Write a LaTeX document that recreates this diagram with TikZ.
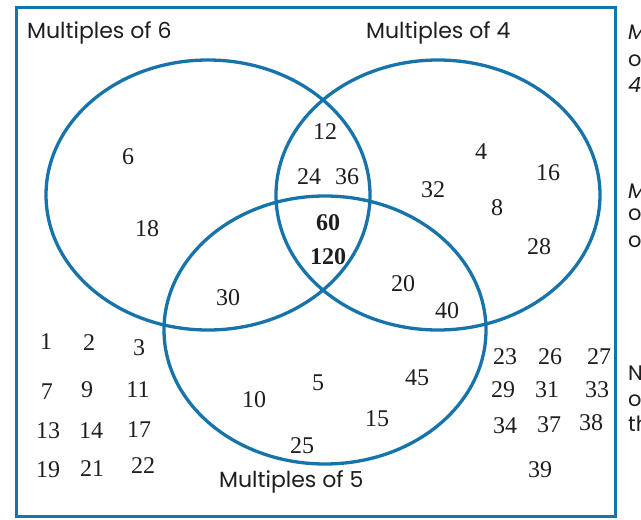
\documentclass[tikz,border=0pt]{standalone}
\usepackage{fontspec}
\setmainfont{Liberation Serif}
\newfontfamily\labelfont{Poppins}
\definecolor{vblue}{RGB}{22,116,170}
\definecolor{ink}{RGB}{30,30,30}
\begin{document}
\begin{tikzpicture}[x=1pt,y=-1pt,
  num/.style={font=\fontsize{24}{24}\selectfont, text=ink, inner sep=0pt},
  bnum/.style={num, font=\fontsize{24}{24}\selectfont\bfseries},
  lab/.style={font=\labelfont\fontsize{22}{22}\selectfont, text=ink, inner sep=0pt, anchor=base west},
  setline/.style={draw=vblue, line width=3.3pt},
  side/.style={font=\labelfont\fontsize{21}{21}\selectfont, text=ink, inner sep=0pt, anchor=base west}]
\useasboundingbox (0,0) rectangle (641,520);
\fill[white] (0,0) rectangle (641,520);
% frame
\draw[draw=vblue, line width=3pt] (16,7) rectangle (615,516);
% sets
\draw[setline] (208,195) ellipse [x radius=162pt, y radius=135pt];
\draw[setline] (438,195) ellipse [x radius=162pt, y radius=135pt];
\draw[setline] (325,330) ellipse [x radius=161pt, y radius=134pt];
% labels
\node[lab] (l6) at (27,38) {Multiples of 6};
\node[lab] (l4) at (366,38) {Multiples of 4};
\node[lab] (l5) at (219,487) {Multiples of 5};
% numbers in sets
\node[num] (n6) at (128,157) {6};
\node[num] (n18) at (147,229) {18};
\node[num] (n12) at (325,132) {12};
\node[num] (n24) at (309,177) {24};
\node[num] (n36) at (347,177) {36};
\node[bnum] (n60) at (328,223) {60};
\node[bnum] (n120) at (328,257) {120};
\node[num] (n32) at (433,190) {32};
\node[num] (n4) at (481,152) {4};
\node[num] (n16) at (548,173) {16};
\node[num] (n8) at (497,208) {8};
\node[num] (n28) at (539,247) {28};
\node[num] (n30) at (228,298) {30};
\node[num] (n20) at (403,284) {20};
\node[num] (n40) at (447,311) {40};
\node[num] (n5) at (318,383) {5};
\node[num] (n45) at (417,378) {45};
\node[num] (n10) at (254,400) {10};
\node[num] (n15) at (377,419) {15};
\node[num] (n25) at (302,446) {25};
% outside
\node[num] (n1) at (46,342) {1};
\node[num] (n2) at (89,343) {2};
\node[num] (n3) at (139,348) {3};
\node[num] (n7) at (47,392) {7};
\node[num] (n9) at (87,390) {9};
\node[num] (n11) at (138,390) {11};
\node[num] (n13) at (48,431) {13};
\node[num] (n14) at (91,431) {14};
\node[num] (n17) at (139,430) {17};
\node[num] (n19) at (48,470) {19};
\node[num] (n21) at (92,469) {21};
\node[num] (n22) at (143,466) {22};
\node[num] (n23) at (505,357) {23};
\node[num] (n26) at (550,357) {26};
\node[num] (n27) at (599,357) {27};
\node[num] (n29) at (503,390) {29};
\node[num] (n31) at (547,390) {31};
\node[num] (n33) at (597,390) {33};
\node[num] (n34) at (505,426) {34};
\node[num] (n37) at (549,425) {37};
\node[num] (n38) at (591,423) {38};
\node[num] (n39) at (540,470) {39};
% cut-off text at right edge, as in the reference
\begin{scope}
\clip (622,0) rectangle (641,520);
\node[side] (s1) at (628,39) {\itshape Multiples};
\node[side] (s2) at (628,66) {of};
\node[side] (s3) at (628,92) {\itshape 4};
\node[side] (s4) at (628,198) {\itshape Multiples};
\node[side] (s5) at (628,220) {of};
\node[side] (s6) at (628,247) {of};
\node[side] (s7) at (628,380) {Numbers};
\node[side] (s8) at (628,406) {of};
\node[side] (s9) at (628,431) {the};
\end{scope}
\end{tikzpicture}
\end{document}
